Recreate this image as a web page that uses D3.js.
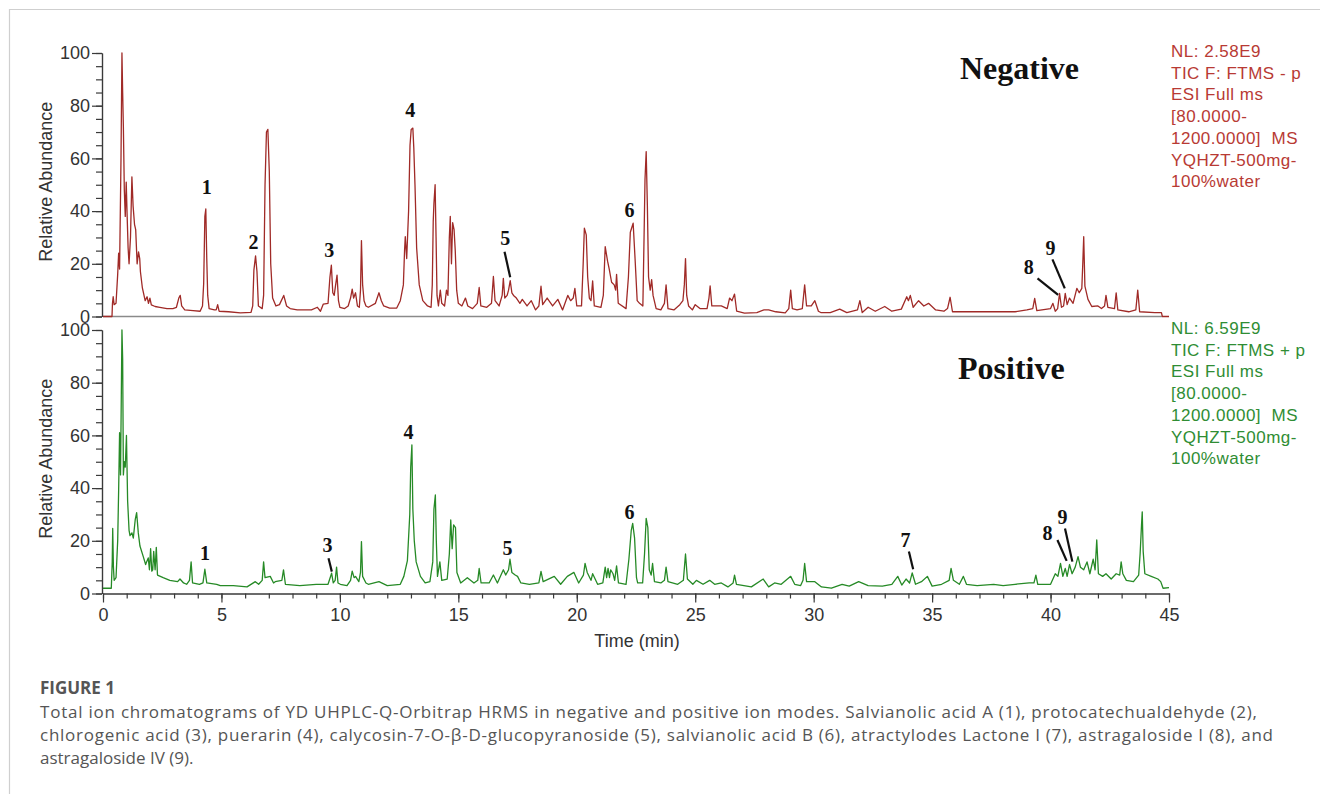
<!DOCTYPE html>
<html>
<head>
<meta charset="utf-8">
<script src="https://cdn.jsdelivr.net/npm/d3@7"></script>
<style>
  body { margin: 0; background: #fff; }
  svg { display: block; }
  .axis text { font-family: Arial, "Liberation Sans", sans-serif; font-size: 18px; fill: #333; }
  .axis path, .axis line { stroke: #3a3a3a; stroke-width: 1.2; }
  .ylabel, .xlabel { font-family: Arial, "Liberation Sans", sans-serif; font-size: 18px; fill: #333; }
  .mode { font-family: "Times New Roman", "Liberation Serif", serif; font-weight: bold; font-size: 32px; fill: #111; }
  .peak-num { font-family: "Times New Roman", "Liberation Serif", serif; font-weight: bold; font-size: 20px; fill: #111; }
  .info { font-family: Arial, "Liberation Sans", sans-serif; font-size: 17px; letter-spacing: 0.5px; white-space: pre; }
  .fig-title { font-family: "Open Sans", sans-serif; font-weight: bold; font-size: 17px; fill: #555; }
  .caption { font-family: "Open Sans", sans-serif; font-size: 17px; fill: #555; }
</style>
</head>
<body>
<svg id="chart" width="1320" height="794"></svg>
<script>
// retention time (min), relative abundance (%)
const negTrace = [
  [0, 0], [0.38, 0], [0.40, 5], [0.43, 7.5], [0.47, 4.5], [0.55, 5], [0.62, 16], [0.66, 24], [0.70, 18],
  [0.76, 60], [0.80, 100], [0.83, 85], [0.86, 72], [0.90, 48], [0.94, 38], [0.98, 51], [1.02, 38],
  [1.06, 26], [1.10, 20], [1.16, 30], [1.22, 53], [1.27, 42], [1.33, 35], [1.38, 33], [1.44, 20],
  [1.50, 24.5], [1.55, 22], [1.58, 17], [1.66, 11], [1.72, 8.5], [1.78, 6], [1.86, 7.5], [1.92, 5],
  [1.98, 7], [2.04, 4.4], [2.20, 3.8], [2.40, 3.5], [2.70, 3], [2.95, 3], [3.10, 3.5], [3.20, 7],
  [3.26, 8], [3.32, 4], [3.45, 2.5], [3.80, 2.2], [4.10, 2], [4.20, 4], [4.25, 12.5], [4.30, 38],
  [4.34, 40.8], [4.38, 22], [4.42, 8], [4.48, 3], [4.70, 2.5], [4.78, 2.5], [4.84, 4.5], [4.90, 2],
  [5.30, 1.8], [5.80, 1.4], [6.25, 1.6], [6.32, 4], [6.37, 17.6], [6.44, 23], [6.50, 17], [6.56, 4],
  [6.72, 3], [6.78, 8], [6.84, 50], [6.90, 70], [6.96, 71], [7.02, 55], [7.08, 20], [7.16, 7], [7.30, 4],
  [7.45, 4.5], [7.63, 8], [7.75, 4], [7.90, 3], [8.20, 2.5], [8.80, 2.5], [9.05, 3.5], [9.18, 2],
  [9.30, 4.7], [9.50, 5], [9.58, 15], [9.64, 19.5], [9.70, 9], [9.76, 8], [9.82, 12], [9.88, 15.7],
  [9.94, 6], [10.0, 3.5], [10.2, 3], [10.35, 4], [10.45, 7], [10.52, 10.4], [10.58, 7], [10.66, 9],
  [10.74, 4], [10.82, 3.5], [10.87, 10], [10.91, 28.8], [10.96, 12], [11.02, 6], [11.1, 4], [11.2, 3.5],
  [11.5, 5], [11.65, 9], [11.75, 6], [11.85, 4], [12.1, 3.2], [12.4, 3.2], [12.55, 6], [12.68, 12],
  [12.73, 25], [12.76, 30.3], [12.82, 22], [12.9, 40], [12.96, 65], [13.01, 71], [13.08, 71.5], [13.12, 64],
  [13.17, 50], [13.24, 26], [13.35, 12], [13.5, 6], [13.7, 4], [13.85, 3.5], [13.9, 12], [13.94, 36],
  [13.97, 43], [14.02, 50], [14.06, 30], [14.1, 8], [14.16, 4], [14.24, 10], [14.3, 5], [14.42, 4],
  [14.5, 10], [14.56, 8], [14.62, 30], [14.66, 38], [14.71, 20], [14.76, 35.6], [14.82, 33], [14.87, 25],
  [14.93, 10], [15.0, 5], [15.15, 4], [15.3, 7], [15.4, 4], [15.6, 3], [15.8, 5], [15.88, 11], [15.95, 4],
  [16.2, 3.5], [16.4, 5], [16.48, 15.2], [16.55, 6], [16.72, 4], [16.85, 8], [16.9, 14.5], [16.96, 7],
  [17.06, 8], [17.12, 10], [17.19, 13.6], [17.26, 9], [17.33, 8], [17.45, 7], [17.6, 5], [17.7, 6.5],
  [17.9, 4], [18.08, 6], [18.26, 2.5], [18.4, 4], [18.49, 11.5], [18.56, 4.5], [18.75, 7], [18.98, 4],
  [19.2, 6.5], [19.4, 2.5], [19.62, 8], [19.74, 6], [19.85, 7], [19.92, 10.7], [20.0, 4], [20.2, 4],
  [20.27, 20], [20.32, 33.5], [20.40, 31], [20.46, 15], [20.53, 7], [20.6, 6], [20.67, 13.5], [20.74, 4],
  [21.02, 3.5], [21.12, 8], [21.2, 26.5], [21.3, 21], [21.37, 18], [21.47, 13], [21.58, 12], [21.64, 10],
  [21.68, 16], [21.75, 5], [22.08, 3], [22.18, 15], [22.26, 32], [22.38, 35.4], [22.46, 22], [22.55, 6],
  [22.65, 5], [22.79, 4], [22.84, 30], [22.88, 52], [22.93, 62.6], [22.98, 42], [23.03, 15], [23.1, 10],
  [23.16, 14], [23.22, 8], [23.35, 3], [23.55, 2.5], [23.7, 5], [23.77, 12], [23.85, 3], [24.1, 2.5],
  [24.35, 4.5], [24.48, 6], [24.54, 12], [24.59, 22], [24.64, 8], [24.72, 4], [24.88, 2.5], [25.0, 4.5],
  [25.2, 3], [25.5, 3], [25.58, 7], [25.63, 11.6], [25.7, 4], [26.1, 4], [26.35, 3], [26.45, 7],
  [26.55, 6], [26.66, 8.5], [26.75, 2], [27.08, 1.3], [27.6, 1.5], [27.9, 2.5], [28.1, 2.5], [28.4, 1.8],
  [28.8, 1.4], [28.95, 3], [29.03, 10], [29.1, 3], [29.3, 2.5], [29.52, 3], [29.62, 12], [29.7, 4],
  [29.9, 4], [30.05, 6], [30.2, 2], [30.3, 1.5], [30.7, 1.5], [31.1, 2.8], [31.4, 1.5], [31.85, 2.5],
  [31.95, 6], [32.05, 1.5], [32.3, 3.5], [32.6, 2], [33.0, 3.8], [33.3, 2], [33.7, 2.8], [33.93, 7.5],
  [34.0, 6], [34.08, 8], [34.2, 3.5], [34.43, 6], [34.65, 4], [34.85, 5], [35.15, 2.5], [35.5, 2],
  [35.65, 3], [35.76, 7.3], [35.86, 1.8], [36.5, 1.8], [37.5, 1.8], [38.5, 1.8], [39.0, 2.5], [39.25, 3],
  [39.33, 6.9], [39.42, 2.2], [40.0, 3], [40.1, 5], [40.2, 2], [40.3, 3], [40.38, 8.8], [40.46, 3.5],
  [40.55, 4], [40.62, 8.8], [40.7, 4.5], [40.8, 7], [40.95, 5], [41.11, 10.7], [41.21, 9], [41.32, 10.7],
  [41.36, 20], [41.40, 30.3], [41.45, 11.5], [41.58, 6.5], [41.74, 3.8], [42.0, 4], [42.15, 3], [42.28, 4],
  [42.34, 8], [42.42, 3.5], [42.7, 3], [42.77, 9], [42.84, 2.5], [43.3, 1.8], [43.6, 2.5], [43.68, 10],
  [43.76, 1.8], [44.4, 1.5], [44.68, 1.5], [44.72, 0], [45.0, 0]
];

// retention time (min), relative abundance (%)
const posTrace = [
  [0, 2], [0.35, 2], [0.39, 12], [0.41, 24.7], [0.44, 10], [0.47, 5], [0.55, 6], [0.62, 20], [0.66, 39],
  [0.70, 61], [0.74, 45], [0.80, 100], [0.83, 89], [0.86, 45], [0.90, 50], [0.94, 48], [0.99, 60],
  [1.04, 35], [1.10, 24], [1.14, 22], [1.22, 23], [1.28, 21], [1.36, 28], [1.42, 30.7], [1.49, 23],
  [1.56, 18], [1.70, 14], [1.80, 11], [1.84, 12], [1.91, 13.5], [1.96, 9], [2.01, 17], [2.06, 8.5],
  [2.10, 9], [2.14, 16], [2.20, 9], [2.25, 17.5], [2.30, 7], [2.54, 6], [2.82, 5], [3.15, 4.5],
  [3.25, 5.5], [3.4, 4], [3.53, 3.5], [3.65, 5], [3.72, 12], [3.78, 4], [4.07, 3.5], [4.22, 4],
  [4.30, 9.2], [4.38, 4], [4.80, 3.5], [4.95, 3], [5.5, 3], [6.08, 2.5], [6.43, 4.5], [6.57, 3.5],
  [6.72, 5], [6.78, 12], [6.84, 6], [7.06, 6.5], [7.2, 4], [7.27, 4.5], [7.55, 5], [7.62, 9], [7.70, 3.5],
  [8.31, 3], [9.0, 3.5], [9.5, 3.5], [9.65, 7.7], [9.72, 4], [9.8, 5], [9.86, 10], [9.92, 4], [10.02, 3.5],
  [10.3, 3], [10.45, 5], [10.52, 8.5], [10.6, 6], [10.66, 6.5], [10.8, 4.5], [10.87, 8], [10.91, 19.7],
  [10.96, 6.5], [11.1, 4], [11.2, 3.5], [11.65, 4.5], [12.0, 3], [12.55, 3.5], [12.7, 6.5], [12.85, 12.5],
  [12.95, 30], [12.99, 48], [13.04, 56.4], [13.08, 32], [13.14, 20], [13.22, 12], [13.4, 6.5], [13.6, 4],
  [13.8, 4.5], [13.92, 12], [13.97, 32], [14.03, 37.4], [14.07, 20], [14.12, 6.5], [14.22, 12], [14.3, 5],
  [14.53, 5.5], [14.62, 15], [14.68, 27.9], [14.74, 17], [14.8, 26], [14.88, 25], [14.94, 8], [15.1, 4],
  [15.38, 6], [15.66, 4], [15.82, 5], [15.88, 9.5], [15.96, 4], [16.3, 4], [16.48, 7], [16.65, 4],
  [16.9, 9], [17.0, 7], [17.12, 9], [17.18, 13], [17.26, 8], [17.4, 7], [17.5, 6.5], [17.64, 4],
  [18.0, 3.5], [18.4, 4], [18.49, 8.4], [18.58, 4.5], [19.05, 6.5], [19.32, 3.5], [19.6, 6.5], [19.88, 8],
  [20.08, 4], [20.28, 7], [20.35, 11.4], [20.44, 8], [20.6, 5], [20.67, 7.5], [20.88, 3.5], [21.1, 4],
  [21.2, 10], [21.26, 6], [21.32, 9.5], [21.38, 6], [21.43, 9], [21.53, 7.5], [21.6, 5], [21.68, 10.5],
  [21.76, 4], [22.08, 3.5], [22.2, 13], [22.3, 24], [22.36, 26.6], [22.44, 21], [22.52, 6], [22.57, 4],
  [22.78, 4], [22.86, 15], [22.93, 28.5], [23.0, 25], [23.06, 9], [23.14, 7], [23.2, 11.4], [23.28, 4.5],
  [23.55, 4], [23.7, 5], [23.77, 10], [23.85, 4.5], [24.26, 3.5], [24.5, 5], [24.59, 15], [24.67, 5.5],
  [24.9, 3.5], [25.05, 5], [25.33, 3.5], [25.61, 5], [25.82, 3.5], [26.1, 4], [26.38, 2.5], [26.6, 4],
  [26.66, 7], [26.74, 3.5], [27.37, 2.5], [27.87, 5.5], [28.1, 2.5], [28.35, 4], [28.63, 3.5], [29.03, 6.5],
  [29.2, 3.5], [29.45, 3], [29.55, 5], [29.62, 11.4], [29.7, 4.5], [30.05, 4.5], [30.33, 2.5], [30.75, 2],
  [31.2, 3.5], [31.5, 2.8], [31.9, 4.5], [32.3, 3], [32.9, 2.8], [33.3, 3.5], [33.55, 6.5], [33.72, 3.2],
  [33.9, 5.5], [34.05, 4], [34.16, 7.8], [34.3, 3.5], [34.55, 4.5], [34.8, 6.5], [35.0, 2.8], [35.4, 3.5],
  [35.72, 5], [35.8, 9.5], [35.9, 5], [36.15, 3.5], [36.32, 6.5], [36.45, 3.5], [36.9, 3], [37.6, 3.5],
  [38.0, 3], [38.5, 3.5], [39.1, 4], [39.3, 4], [39.38, 7], [39.46, 3.5], [40.0, 3.5], [40.2, 7.5],
  [40.31, 6.5], [40.42, 11.4], [40.52, 6.5], [40.62, 9.5], [40.7, 6.5], [40.8, 11], [40.91, 7.5], [41.04, 10],
  [41.16, 14], [41.26, 10], [41.4, 9], [41.54, 12], [41.66, 7.5], [41.8, 13], [41.88, 9], [41.95, 20.3],
  [42.02, 7.5], [42.2, 6.5], [42.34, 7.5], [42.56, 5.5], [42.77, 7.5], [42.92, 7], [42.98, 12], [43.05, 7.5],
  [43.2, 5], [43.5, 4.5], [43.72, 7], [43.78, 15], [43.84, 26], [43.87, 31], [43.91, 16], [43.98, 7.5],
  [44.25, 6.5], [44.53, 5.5], [44.65, 4.5], [44.75, 2], [45.0, 2.2]
];

// compound numbers: [label, time, abundance] of the number, optional leader line [t1, v1, t2, v2]
const negLabels = [
  ['1', 4.38, 49.3], ['2', 6.35, 28.2], ['3', 9.55, 25.2], ['4', 12.97, 78.4],
  ['5', 16.98, 29.7, [16.95, 24.6, 17.19, 14.9]], ['6', 22.23, 40.4],
  ['8', 39.08, 18.8, [39.45, 14.5, 40.32, 8.2]], ['9', 40.0, 26, [40.08, 21.7, 40.6, 10.7]]
];
const posLabels = [
  ['1', 4.31, 15.4], ['3', 9.48, 18.4, [9.52, 13.4, 9.66, 8.3]], ['4', 12.9, 61.4],
  ['5', 17.08, 17.2], ['6', 22.23, 31], ['7', 33.88, 20.3, [34.02, 15.9, 34.2, 9.2]],
  ['8', 39.87, 22.8, [40.29, 20.3, 40.68, 12.4]], ['9', 40.5, 29.1, [40.61, 24.7, 40.92, 12.1]]
];

const yTicks = [0, 20, 40, 60, 80, 100];
const yMinor = d3.range(0, 101, 5);
const xTicks = [0, 5, 10, 15, 20, 25, 30, 35, 40, 45];
const xMinor = d3.range(0, 46, 1);

const negInfo = ['NL: 2.58E9', 'TIC F: FTMS - p', 'ESI Full ms', '[80.0000-', '1200.0000]  MS', 'YQHZT-500mg-', '100%water'];
const posInfo = ['NL: 6.59E9', 'TIC F: FTMS + p', 'ESI Full ms', '[80.0000-', '1200.0000]  MS', 'YQHZT-500mg-', '100%water'];

const captionLines = [
  'Total ion chromatograms of YD UHPLC-Q-Orbitrap HRMS in negative and positive ion modes. Salvianolic acid A (1), protocatechualdehyde (2),',
  'chlorogenic acid (3), puerarin (4), calycosin-7-O-β-D-glucopyranoside (5), salvianolic acid B (6), atractylodes Lactone I (7), astragaloside I (8), and',
  'astragaloside IV (9).'
];
const captionWidths = [1217, 1233, null];

const svg = d3.select('#chart');

// light frame of the figure box
svg.append('path')
  .attr('d', 'M9.5,794V9.5H1320')
  .attr('fill', 'none')
  .attr('stroke', '#cfcfcf')
  .attr('stroke-width', 1.2);

const x = d3.scaleLinear().domain([0, 45]).range([103, 1169]);

const panels = [
  { trace: negTrace, labels: negLabels, info: negInfo, mode: 'Negative', color: '#a02a27', text: '#b83a34',
    top: 53, bottom: 316.5, modeX: 960, modeY: 79 },
  { trace: posTrace, labels: posLabels, info: posInfo, mode: 'Positive', color: '#268a26', text: '#2f8d34',
    top: 330, bottom: 593.5, modeX: 958, modeY: 379 }
];

panels.forEach((p, i) => {
  const y = d3.scaleLinear().domain([0, 100]).range([p.bottom, p.top]);
  const g = svg.append('g');

  // minor y ticks
  g.append('g')
    .classed('axis', true)
    .attr('transform', 'translate(102,0)')
    .call(d3.axisLeft(y).tickValues(yMinor).tickSize(6).tickSizeOuter(0).tickFormat(''));

  g.append('g')
    .classed('axis', true)
    .attr('transform', 'translate(102,0)')
    .call(d3.axisLeft(y).tickValues(yTicks).tickSize(10).tickSizeOuter(0).tickPadding(2));

  if (i === 0) {
    g.append('line')
      .attr('x1', x(0)).attr('x2', x(44.7))
      .attr('y1', y(0)).attr('y2', y(0))
      .attr('stroke', '#8a8a8a')
      .attr('stroke-width', 1.6);
  }

  g.append('path')
    .datum(p.trace)
    .attr('fill', 'none')
    .attr('stroke', p.color)
    .attr('stroke-width', 1.3)
    .attr('stroke-linejoin', 'round')
    .attr('d', d3.line().x(d => x(d[0])).y(d => y(d[1])));

  g.append('text')
    .classed('ylabel', true)
    .attr('text-anchor', 'middle')
    .attr('transform', `translate(52, ${(p.top + p.bottom) / 2 - 3}) rotate(-90)`)
    .text('Relative Abundance');

  g.append('text')
    .classed('mode', true)
    .attr('x', p.modeX)
    .attr('y', p.modeY)
    .text(p.mode);

  g.selectAll('.info')
    .data(p.info)
    .enter()
    .append('text')
    .classed('info', true)
    .attr('x', 1171)
    .attr('y', (d, j) => p.top + 4 + j * 21.7)
    .attr('fill', p.text)
    .text(d => d);

  g.selectAll('.peak-num')
    .data(p.labels)
    .enter()
    .append('text')
    .classed('peak-num', true)
    .attr('text-anchor', 'middle')
    .attr('x', d => x(d[1]))
    .attr('y', d => y(d[2]) + 7)
    .text(d => d[0]);

  g.selectAll('.leader')
    .data(p.labels.filter(d => d[3]))
    .enter()
    .append('line')
    .classed('leader', true)
    .attr('x1', d => x(d[3][0]))
    .attr('y1', d => y(d[3][1]))
    .attr('x2', d => x(d[3][2]))
    .attr('y2', d => y(d[3][3]))
    .attr('stroke', '#111')
    .attr('stroke-width', 2.2);

  if (i === 1) {
    g.append('g')
      .classed('axis', true)
      .attr('transform', `translate(0,${p.bottom})`)
      .call(d3.axisBottom(x).tickValues(xMinor).tickSize(5).tickSizeOuter(0).tickFormat(''));

    g.append('g')
      .classed('axis', true)
      .attr('transform', `translate(0,${p.bottom})`)
      .call(d3.axisBottom(x).tickValues(xTicks).tickSize(9).tickSizeOuter(0).tickPadding(6));
  }
});

svg.append('text')
  .classed('xlabel', true)
  .attr('text-anchor', 'middle')
  .attr('x', 637)
  .attr('y', 647)
  .text('Time (min)');

svg.append('text')
  .classed('fig-title', true)
  .attr('x', 40)
  .attr('y', 694)
  .text('FIGURE 1');

svg.selectAll('.caption')
  .data(captionLines)
  .enter()
  .append('text')
  .classed('caption', true)
  .attr('x', 40)
  .attr('y', (d, i) => 718 + i * 23)
  .each(function (d, i) {
    if (captionWidths[i]) {
      d3.select(this).attr('textLength', captionWidths[i]).attr('lengthAdjust', 'spacing');
    }
  })
  .text(d => d);
</script>
</body>
</html>
